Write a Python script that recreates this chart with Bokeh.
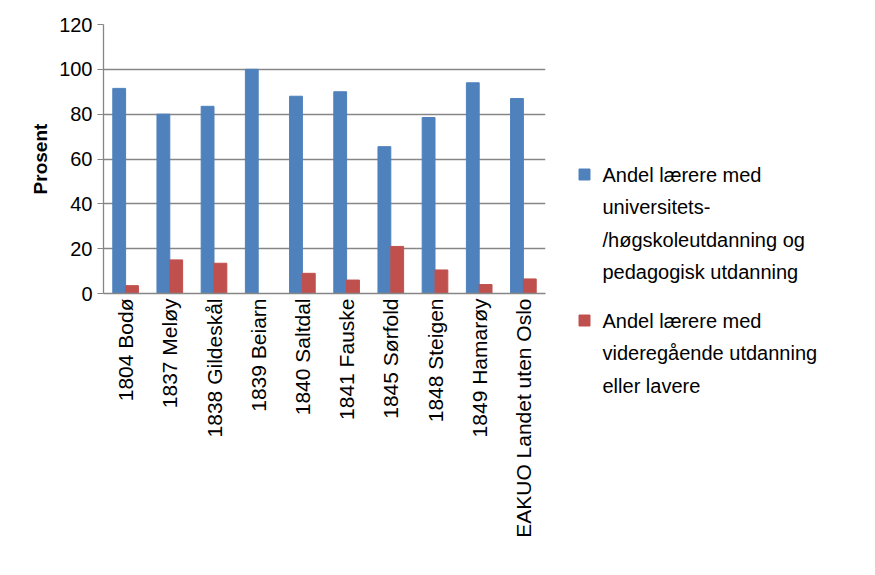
from math import pi
from bokeh.plotting import figure
from bokeh.layouts import row
from bokeh.models import FactorRange
from bokeh.core.properties import value
from bokeh.transform import dodge
from bokeh.embed import file_html
from bokeh.resources import INLINE

kommuner = ["1804 Bodø", "1837 Meløy", "1838 Gildeskål", "1839 Beiarn", "1840 Saltdal",
            "1841 Fauske", "1845 Sørfold", "1848 Steigen", "1849 Hamarøy", "EAKUO Landet uten Oslo"]
hoy = [91.5, 80, 83.5, 100, 88, 90, 65.5, 78.5, 94, 87]
vgs = [3.5, 15, 13.5, 0, 9, 6, 21, 10.5, 4, 6.5]
leg1 = ["Andel lærere med", "universitets-", "/høgskoleutdanning og", "pedagogisk utdanning"]
leg2 = ["Andel lærere med", "videregående utdanning", "eller lavere"]

blue = "#4F81BD"
red = "#C0504D"
font = "Liberation Sans"

p = figure(x_range=FactorRange(*kommuner), y_range=(0, 120), width=555, height=555,
           output_backend="svg", toolbar_location=None,
           min_border_left=103, min_border_top=24, min_border_right=10, min_border_bottom=262)
p.outline_line_color = None
data = dict(k=kommuner, a=hoy, b=vgs)
p.vbar(x=dodge("k", -0.145, range=p.x_range), top="a", width=0.29, color=blue, source=data)
p.vbar(x=dodge("k", 0.145, range=p.x_range), top="b", width=0.29, color=red, source=data)

p.xgrid.grid_line_color = None
p.ygrid.grid_line_color = "#868686"
p.ygrid.grid_line_width = 1.3
p.yaxis.ticker = [0, 20, 40, 60, 80, 100, 120]
for ax in (p.xaxis[0], p.yaxis[0]):
    ax.axis_line_color = "#868686"
    ax.axis_line_width = 1.3
    ax.major_tick_line_color = "#868686"
    ax.major_tick_in = 0
    ax.minor_tick_line_color = None
    ax.major_label_text_font = font
    ax.major_label_text_font_size = "20px"
    ax.major_label_text_color = "#000000"
p.xaxis.major_label_text_font_size = "21px"
p.yaxis.major_tick_out = 6
p.xaxis.major_tick_out = 0
p.xaxis.major_label_orientation = pi / 2
p.xaxis.major_label_standoff = 5
p.yaxis.axis_label = "Prosent"
p.yaxis.axis_label_text_font = font
p.yaxis.axis_label_text_font_size = "19px"
p.yaxis.axis_label_text_font_style = "bold"
p.yaxis.axis_label_text_color = "#000000"

# legend drawn in its own panel, one unit per pixel
H = 555
lg = figure(frame_width=300, frame_height=H, x_range=(0, 300), y_range=(0, H),
            output_backend="svg", toolbar_location=None, min_border=0)
lg.axis.visible = False
lg.grid.grid_line_color = None
lg.outline_line_color = None

def legend_block(color, lines, y0):
    lg.scatter([29], [H - y0], marker="square", size=11, color=color)
    ys = [H - (y0 + 32.5 * i) for i in range(len(lines))]
    lg.text([47] * len(lines), ys, text=lines, text_font=value(font), text_font_size="20px",
            text_color="#000000", text_baseline="middle")

legend_block(blue, leg1, 150)
legend_block(red, leg2, 296)

open("out.html", "w").write(file_html(row(p, lg), INLINE))
